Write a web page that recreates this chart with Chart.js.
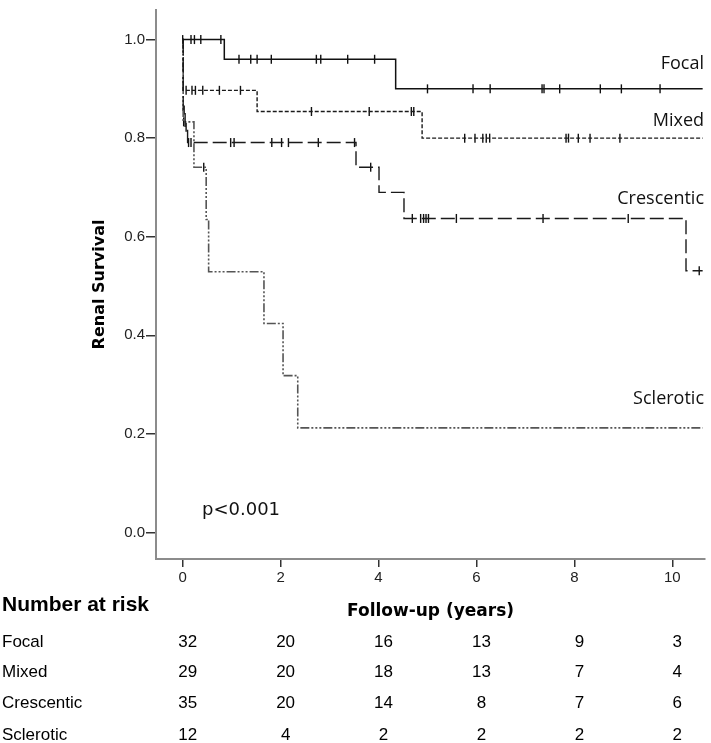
<!DOCTYPE html>
<html>
<head>
<meta charset="utf-8">
<script src="https://cdn.jsdelivr.net/npm/chart.js@4.4.1/dist/chart.umd.min.js"></script>
<style>
  html, body { margin: 0; padding: 0; background: #fff; }
  #wrap { width: 711px; height: 743px; }
</style>
</head>
<body>
<div id="wrap"><canvas id="km" width="711" height="743"></canvas></div>
<script>
/*
  Kaplan-Meier renal survival by histological class
  - step curves + censor ticks
  - number at risk table drawn under the x axis
*/

// x / y ticks
const xTicks = [0, 2, 4, 6, 8, 10];
const yTicks = [0, 0.2, 0.4, 0.6, 0.8, 1.0];

const groups = ['Focal', 'Mixed', 'Crescentic', 'Sclerotic'];

// step points: time (years) and survival after that time
const focalTimes = [0, 0.85, 4.35, 10.62];
const focalSurv  = [1.0, 0.96, 0.90, 0.90];
const focalCensor = [0.0, 0.17, 0.24, 0.37, 0.78, 1.15, 1.39, 1.52, 1.81, 2.73, 2.82, 3.37, 3.92,
                     5.0, 5.93, 6.28, 7.34, 7.38, 7.70, 8.53, 8.96, 9.75];

const mixedTimes = [0, 0.01, 1.52, 4.89, 10.62];
const mixedSurv  = [1.0, 0.897, 0.854, 0.80, 0.80];
const mixedCensor = [0.07, 0.19, 0.26, 0.41, 0.75, 1.18, 2.63, 3.81, 4.67, 4.72,
                     5.76, 5.97, 6.13, 6.20, 6.27, 7.83, 7.88, 8.08, 8.32, 8.93];

const crescTimes = [0, 0.01, 0.05, 0.1, 3.54, 4.01, 4.52, 10.28, 10.62];
const crescSurv  = [1.0, 0.857, 0.822, 0.791, 0.741, 0.69, 0.637, 0.531, 0.531];
const crescCensor = [0.03, 0.07, 0.12, 0.17, 0.98, 1.05, 1.82, 2.02, 2.16, 2.77, 3.51, 3.84,
                     4.69, 4.86, 4.92, 4.97, 5.02, 5.59, 7.36, 9.1, 10.55];

const scleroTimes = [0, 0.01, 0.23, 0.48, 0.53, 1.66, 2.05, 2.35, 10.62];
const scleroSurv  = [1.0, 0.833, 0.741, 0.635, 0.529, 0.424, 0.318, 0.212, 0.212];
const scleroCensor = [0.02, 0.43];

// number at risk
const riskTimes = [0, 2, 4, 6, 8, 10];
const riskFocal  = [32, 20, 16, 13, 9, 3];
const riskMixed  = [29, 20, 18, 13, 7, 4];
const riskCresc  = [35, 20, 14, 8, 7, 6];
const riskSclero = [12, 4, 2, 2, 2, 2];

const pValue = 'p<0.001';

/* helpers */
function stepPoints(times, surv){
  return times.map((t, i) => ({x: t, y: surv[i]}));
}
function survAt(times, surv, t){
  let s = surv[0];
  for(let i = 0; i < times.length; i++){ if(times[i] <= t) s = surv[i]; }
  return s;
}
function censorPoints(times, surv, cens){
  return cens.map(t => ({x: t, y: survAt(times, surv, t)}));
}

const curveStyle = [
  {color: '#111111', dash: [],                         width: 1.5},
  {color: '#1a1a1a', dash: [4, 2],                     width: 1.4},
  {color: '#1a1a1a', dash: [14, 5],                    width: 1.4},
  {color: '#555555', dash: [9, 2, 2, 2, 2, 2, 2, 2],   width: 1.6}
];
const series = [
  [focalTimes, focalSurv, focalCensor],
  [mixedTimes, mixedSurv, mixedCensor],
  [crescTimes, crescSurv, crescCensor],
  [scleroTimes, scleroSurv, scleroCensor]
];

const datasets = [];
series.forEach((s, i) => {
  const st = curveStyle[i];
  datasets.push({
    label: groups[i],
    data: stepPoints(s[0], s[1]),
    stepped: 'before',
    borderColor: st.color,
    borderWidth: st.width,
    borderDash: st.dash,
    pointRadius: 0,
    fill: false
  });
});
series.forEach((s, i) => {
  datasets.push({
    label: groups[i] + ' censored',
    data: censorPoints(s[0], s[1], s[2]),
    showLine: false,
    pointStyle: 'line',
    rotation: 90,
    pointRadius: 4.5,
    pointBorderWidth: 1.4,
    pointBorderColor: '#111',
    pointBackgroundColor: '#111'
  });
});

/* curve labels + p value + number at risk table */
const curveLabels = [
  {text: 'Focal', value: 0.95},
  {text: 'Mixed', value: 0.835},
  {text: 'Crescentic', value: 0.676},
  {text: 'Sclerotic', value: 0.27}
];
const riskRows = [riskFocal, riskMixed, riskCresc, riskSclero];

const annotate = {
  id: 'annotate',
  afterDraw(chart){
    const {ctx, scales: {x, y}} = chart;
    ctx.save();
    ctx.fillStyle = '#111';
    ctx.textBaseline = 'middle';

    ctx.font = '18px "Open Sans"';
    ctx.textAlign = 'right';
    curveLabels.forEach(l => ctx.fillText(l.text, 704, y.getPixelForValue(l.value)));

    ctx.textAlign = 'left';
    ctx.font = '18px "DejaVu Sans"';
    ctx.fillText(pValue, 202, 510);

    ctx.fillStyle = '#000';
    ctx.font = 'bold 21px "Liberation Sans"';
    ctx.fillText('Number at risk', 2, 605);

    ctx.font = '17px "Liberation Sans"';
    const rowY = [642, 672, 703, 735];
    riskRows.forEach((row, r) => {
      ctx.textAlign = 'left';
      ctx.fillText(groups[r], 2, rowY[r]);
      ctx.textAlign = 'center';
      row.forEach((n, c) => ctx.fillText(String(n), x.getPixelForValue(riskTimes[c]) + 5, rowY[r]));
    });
    ctx.restore();
  }
};

new Chart(document.getElementById('km'), {
  type: 'line',
  data: {datasets},
  options: {
    responsive: false,
    animation: false,
    layout: {padding: 0},
    plugins: {legend: {display: false}, tooltip: {enabled: false}},
    scales: {
      x: {
        type: 'linear',
        min: -0.545,
        max: 10.67,
        afterBuildTicks: s => { s.ticks = xTicks.map(v => ({value: v})); },
        afterFit: s => { s.height = 184; },
        grid: {drawOnChartArea: false, drawTicks: true, tickLength: 8, color: '#333', lineWidth: 1.5},
        border: {display: true, color: '#8c8c8c', width: 2},
        ticks: {color: '#222', font: {family: 'Liberation Sans', size: 15}, padding: 2, maxRotation: 0,
                callback: v => String(v)},
        title: {display: true, text: 'Follow-up (years)', color: '#000',
                font: {family: 'DejaVu Sans', size: 17, weight: 'bold'},
                padding: {top: 0, bottom: 121}}
      },
      y: {
        type: 'linear',
        min: -0.054,
        max: 1.06,
        afterBuildTicks: s => { s.ticks = yTicks.map(v => ({value: v})); },
        afterFit: s => { s.width = 156; },
        grid: {drawOnChartArea: false, drawTicks: true, tickLength: 10, color: '#333', lineWidth: 1.5},
        border: {display: true, color: '#8c8c8c', width: 2},
        ticks: {color: '#222', font: {family: 'Liberation Sans', size: 15}, padding: 1,
                callback: v => v.toFixed(1)},
        title: {display: true, text: 'Renal Survival', color: '#000',
                font: {family: 'DejaVu Sans', size: 16, weight: 'bold'},
                padding: {top: 90, bottom: 0}}
      }
    }
  },
  plugins: [annotate]
});
</script>
</body>
</html>
